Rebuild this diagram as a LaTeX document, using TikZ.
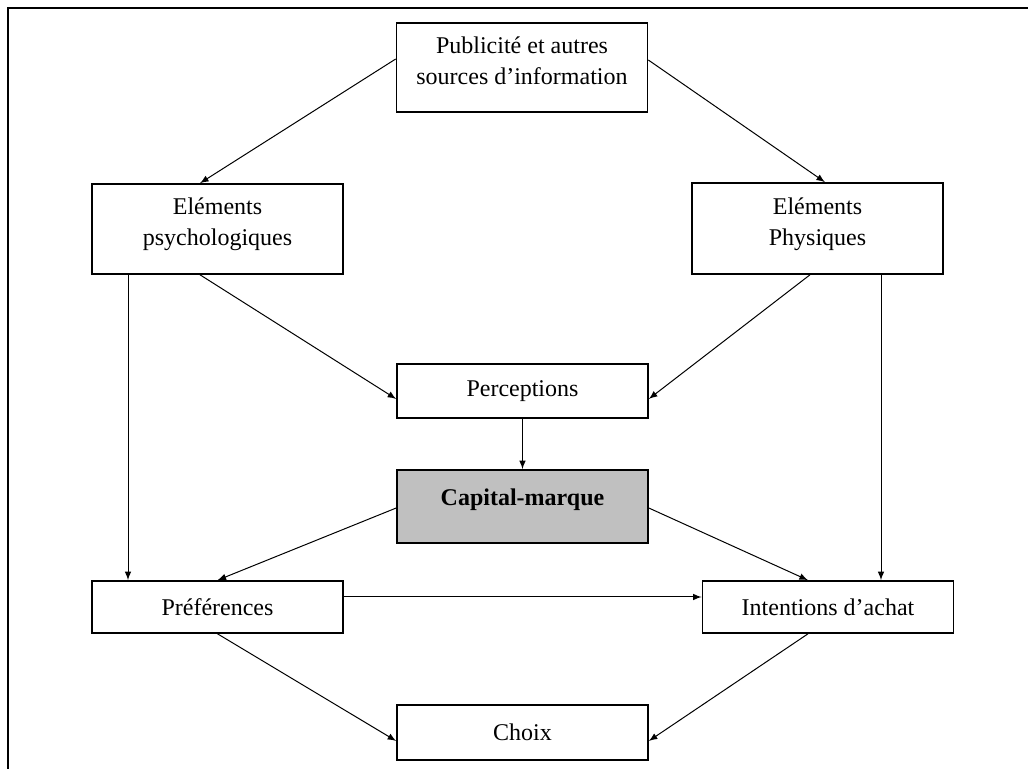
\documentclass[tikz,border=0pt]{standalone}
\usepackage{fontspec}
\setmainfont{Liberation Serif}
\usepackage{pgf,tikz}
\usetikzlibrary{arrows}
\definecolor{capgray}{RGB}{192,192,192}

\begin{document}
\begin{tikzpicture}[x=0.5pt,y=-0.5pt,
  box/.style={draw, line width=0.8pt, rectangle, inner sep=0pt, align=center,
    minimum width=125.5pt, font=\fontsize{12}{15.5}\selectfont},
  link/.style={line width=0.5pt, -latex}]
  \useasboundingbox (0,0) rectangle (1028,769);
  \draw[line width=1pt] (8,769) -- (8,8) -- (1028,8);

  \node[box, minimum height=44.5pt, text depth=7pt] (Pub) at (522,67.5) {Publicit\'e et autres\\ sources d'information};
  \node[box, minimum height=45pt, text depth=7pt] (Psy) at (217.5,229) {El\'ements\\ psychologiques};
  \node[box, minimum height=45.5pt, text depth=7pt] (Phy) at (817.5,228.5) {El\'ements\\ Physiques};
  \node[box, minimum height=27pt] (Perc) at (522.5,391) {Perceptions};
  \node[box, minimum height=36.5pt, fill=capgray, text depth=9pt] (Cap) at (522.5,506.5) {\textbf{Capital-marque}};
  \node[box, minimum height=26pt] (Pref) at (217.5,607) {Pr\'ef\'erences};
  \node[box, minimum height=26pt] (Int) at (828,607) {Intentions d'achat};
  \node[box, minimum height=27.5pt] (Choix) at (522.5,732.5) {Choix};

  \draw[link] ([yshift=4.25pt]Pub.west) -- ([xshift=-8.75pt]Psy.north);
  \draw[link] ([yshift=3.75pt]Pub.east) -- ([xshift=3.75pt]Phy.north);
  \draw[link] ([xshift=-8.75pt]Psy.south) -- ([yshift=-4pt]Perc.west);
  \draw[link] ([xshift=-3.75pt]Phy.south) -- ([yshift=-4pt]Perc.east);
  \draw[link] ([xshift=-44.75pt]Psy.south) -- ([xshift=-44.75pt]Psy.south |- Pref.north);
  \draw[link] ([xshift=31.75pt]Phy.south) -- ([xshift=31.75pt]Phy.south |- Int.north);
  \draw[link] (Perc.south) -- (Cap.north);
  \draw[link] ([yshift=-0.75pt]Cap.west) -- (Pref.north);
  \draw[link] ([yshift=-0.75pt]Cap.east) -- ([xshift=-10pt]Int.north);
  \draw[link] ([yshift=5pt]Pref.east) -- ([yshift=5pt]Pref.east -| Int.west);
  \draw[link] (Pref.south) -- ([yshift=-4.25pt]Choix.west);
  \draw[link] ([xshift=-10pt]Int.south) -- ([yshift=-4.25pt]Choix.east);
\end{tikzpicture}
\end{document}
